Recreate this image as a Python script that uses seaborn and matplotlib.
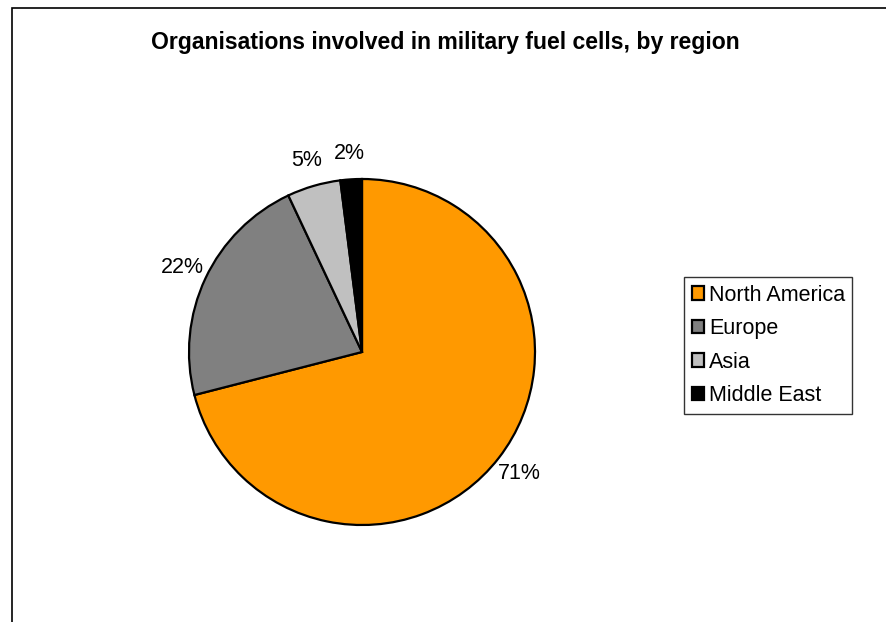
import matplotlib
matplotlib.use("Agg")
import matplotlib.pyplot as plt
import seaborn as sns
from matplotlib.patches import Rectangle

# data
regions = ['North America', 'Europe', 'Asia', 'Middle East']
shares = [71, 22, 5, 2]
colours = ['#FF9900', '#808080', '#C0C0C0', '#000000']

sns.set_theme(style="white")
plt.rcParams['font.family'] = ['Liberation Sans', 'DejaVu Sans']
plt.rcParams['text.color'] = 'black'

fig = plt.figure(figsize=(8.87, 6.22), dpi=100)

# outer chart frame (cropped at right and bottom)
fig.patches.append(Rectangle((12 / 887, -0.1), 1.0, 1 - 8 / 622 + 0.1,
                             transform=fig.transFigure, fill=False,
                             edgecolor='black', linewidth=1.2))

fig.text(445 / 887, 1 - 42 / 622, 'Organisations involved in military fuel cells, by region',
         ha='center', va='center', fontsize=16.6, fontweight='bold', color='black')

# pie axes: centre (362, 352), radius ~173 px
r = 173
ax = fig.add_axes([(362 - r) / 887, 1 - (352 + r) / 622, 2 * r / 887, 2 * r / 622])
wedges, texts = ax.pie(shares, colors=colours, startangle=90, counterclock=False,
                       labels=[f'{v}%' for v in shares], labeldistance=1.15,
                       wedgeprops=dict(edgecolor='black', linewidth=1.6),
                       textprops=dict(fontsize=15.5, color='black'))
for t in texts:
    t.set_ha('center')
    t.set_va('center')
ax.set_aspect('equal')
ax.set_xlim(-1, 1)
ax.set_ylim(-1, 1)

leg = fig.legend(wedges, regions, loc='upper left',
                 bbox_to_anchor=(684 / 887, 1 - 277 / 622),
                 frameon=True, fancybox=False, fontsize=15.5,
                 handlelength=0.6, handleheight=0.6, handletextpad=0.2,
                 borderpad=0.35, labelspacing=0.58, borderaxespad=0)
leg.get_frame().set_edgecolor('black')
leg.get_frame().set_linewidth(1.0)

fig.savefig('out.png', dpi=100)
